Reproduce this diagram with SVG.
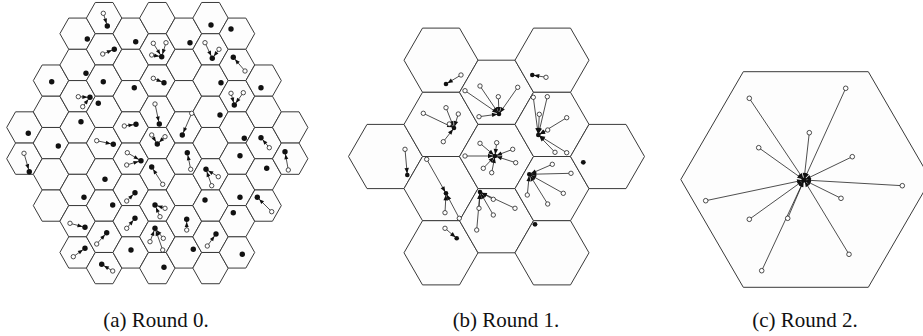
<svg xmlns="http://www.w3.org/2000/svg" width="923" height="336" viewBox="0 0 923 336">
<style>
.cell{fill:#fdfdfd;stroke:#3a3a3a;stroke-width:1}
.e{stroke:#222;stroke-width:0.8;fill:none;marker-end:url(#ah)}
.eb{stroke:#222;stroke-width:0.8;fill:none;marker-end:url(#ahb)}
.o{fill:#fff;stroke:#222;stroke-width:0.8}
.f{fill:#111}
.cap{font-family:"Liberation Serif","Times New Roman",serif;font-size:21px;fill:#111;text-anchor:middle}
</style>
<defs>
<path id="hs" d="M-17.7,0 L-8.85,-15.625 L8.85,-15.625 L17.7,0 L8.85,15.625 L-8.85,15.625 Z"/>
<path id="hm" d="M-37,0 L-18.5,-32.1 L18.5,-32.1 L37,0 L18.5,32.1 L-18.5,32.1 Z"/>
<path id="hl" d="M-125,0 L-62.5,-107.8 L62.5,-107.8 L125,0 L62.5,107.8 L-62.5,107.8 Z"/>
<marker id="ah" viewBox="-6 -3 7 6" refX="2.6" refY="0" markerWidth="7" markerHeight="6" markerUnits="userSpaceOnUse" orient="auto" overflow="visible"><path d="M-5,-2 L0,0 L-5,2 z" fill="#111"/></marker>
<marker id="ahb" viewBox="-6 -3 7 6" refX="1.5" refY="0" markerWidth="7" markerHeight="6" markerUnits="userSpaceOnUse" orient="auto" overflow="visible"><path d="M-5.5,-2.2 L0,0 L-5.5,2.2 z" fill="#111"/></marker>
</defs>
<rect width="923" height="336" fill="#fff"/>

<g id="panel-a">
<g id="a-cells" class="cell">
<use href="#hs" x="24.4" y="127.45"/><use href="#hs" x="24.4" y="158.7"/>
<use href="#hs" x="51" y="80.6"/><use href="#hs" x="51" y="111.85"/><use href="#hs" x="51" y="143.1"/><use href="#hs" x="51" y="174.35"/><use href="#hs" x="51" y="205.6"/>
<use href="#hs" x="77.6" y="33.7"/><use href="#hs" x="77.6" y="64.95"/><use href="#hs" x="77.6" y="96.2"/><use href="#hs" x="77.6" y="127.45"/><use href="#hs" x="77.6" y="158.7"/><use href="#hs" x="77.6" y="189.95"/><use href="#hs" x="77.6" y="221.2"/><use href="#hs" x="77.6" y="252.45"/>
<use href="#hs" x="104.1" y="18.1"/><use href="#hs" x="104.1" y="49.35"/><use href="#hs" x="104.1" y="80.6"/><use href="#hs" x="104.1" y="111.85"/><use href="#hs" x="104.1" y="143.1"/><use href="#hs" x="104.1" y="174.35"/><use href="#hs" x="104.1" y="205.6"/><use href="#hs" x="104.1" y="236.85"/><use href="#hs" x="104.1" y="268.1"/>
<use href="#hs" x="130.7" y="33.7"/><use href="#hs" x="130.7" y="64.95"/><use href="#hs" x="130.7" y="96.2"/><use href="#hs" x="130.7" y="127.45"/><use href="#hs" x="130.7" y="158.7"/><use href="#hs" x="130.7" y="189.95"/><use href="#hs" x="130.7" y="221.2"/><use href="#hs" x="130.7" y="252.45"/>
<use href="#hs" x="157.3" y="18.1"/><use href="#hs" x="157.3" y="49.35"/><use href="#hs" x="157.3" y="80.6"/><use href="#hs" x="157.3" y="111.85"/><use href="#hs" x="157.3" y="143.1"/><use href="#hs" x="157.3" y="174.35"/><use href="#hs" x="157.3" y="205.6"/><use href="#hs" x="157.3" y="236.85"/><use href="#hs" x="157.3" y="268.1"/>
<use href="#hs" x="183.9" y="33.7"/><use href="#hs" x="183.9" y="64.95"/><use href="#hs" x="183.9" y="96.2"/><use href="#hs" x="183.9" y="127.45"/><use href="#hs" x="183.9" y="158.7"/><use href="#hs" x="183.9" y="189.95"/><use href="#hs" x="183.9" y="221.2"/><use href="#hs" x="183.9" y="252.45"/>
<use href="#hs" x="210.5" y="18.1"/><use href="#hs" x="210.5" y="49.35"/><use href="#hs" x="210.5" y="80.6"/><use href="#hs" x="210.5" y="111.85"/><use href="#hs" x="210.5" y="143.1"/><use href="#hs" x="210.5" y="174.35"/><use href="#hs" x="210.5" y="205.6"/><use href="#hs" x="210.5" y="236.85"/><use href="#hs" x="210.5" y="268.1"/>
<use href="#hs" x="237" y="33.7"/><use href="#hs" x="237" y="64.95"/><use href="#hs" x="237" y="96.2"/><use href="#hs" x="237" y="127.45"/><use href="#hs" x="237" y="158.7"/><use href="#hs" x="237" y="189.95"/><use href="#hs" x="237" y="221.2"/><use href="#hs" x="237" y="252.45"/>
<use href="#hs" x="263.6" y="80.6"/><use href="#hs" x="263.6" y="111.85"/><use href="#hs" x="263.6" y="143.1"/><use href="#hs" x="263.6" y="174.35"/><use href="#hs" x="263.6" y="205.6"/>
<use href="#hs" x="290.2" y="127.45"/><use href="#hs" x="290.2" y="158.7"/>
</g>
<g id="a-connectors" class="e">
<line x1="24" y1="153.3" x2="29.3" y2="171.7"/>
<line x1="78.3" y1="96.7" x2="90" y2="97.3"/><line x1="82.7" y1="106.7" x2="90" y2="97.3"/>
<line x1="70" y1="223.3" x2="85" y2="227.3"/>
<line x1="73.3" y1="256.7" x2="85" y2="248.3"/>
<line x1="103.3" y1="13.3" x2="107.3" y2="26"/>
<line x1="102.7" y1="54" x2="114.3" y2="49.3"/>
<line x1="96.7" y1="140.7" x2="113.3" y2="144.3"/>
<line x1="96.7" y1="244" x2="106.7" y2="232.7"/>
<line x1="112.7" y1="271" x2="101.7" y2="264.3"/>
<line x1="124.3" y1="126" x2="136" y2="124.3"/>
<line x1="127.3" y1="152.7" x2="141" y2="160.7"/><line x1="126.7" y1="165" x2="141" y2="160.7"/>
<line x1="126.7" y1="201" x2="135" y2="192.7"/>
<line x1="126.7" y1="228.3" x2="135" y2="218.3"/>
<line x1="153.3" y1="43.3" x2="161.7" y2="56.7"/><line x1="151.7" y1="55" x2="161.7" y2="56.7"/><line x1="166" y1="42.7" x2="161.7" y2="56.7"/>
<line x1="153.3" y1="78.3" x2="164" y2="82.7"/>
<line x1="155" y1="104" x2="159.3" y2="124"/>
<line x1="151.7" y1="135" x2="157.3" y2="144"/><line x1="165" y1="136.7" x2="157.3" y2="144"/>
<line x1="162.7" y1="184.3" x2="151.7" y2="167"/>
<line x1="165" y1="208.3" x2="155" y2="205"/><line x1="160" y1="216.7" x2="155" y2="205"/>
<line x1="150" y1="241.7" x2="155" y2="228.3"/><line x1="163.3" y1="238.3" x2="155" y2="228.3"/><line x1="162.7" y1="250" x2="155" y2="228.3"/>
<line x1="191.7" y1="113.3" x2="182.3" y2="135"/>
<line x1="190.7" y1="169.3" x2="187.3" y2="152.7"/>
<line x1="186.7" y1="230" x2="186.7" y2="219.3"/>
<line x1="205" y1="42.7" x2="212.3" y2="58.3"/><line x1="219" y1="49.3" x2="212.3" y2="58.3"/>
<line x1="211.7" y1="185.7" x2="206" y2="169.3"/><line x1="218.3" y1="176.7" x2="206" y2="169.3"/>
<line x1="207.3" y1="246" x2="216" y2="234"/>
<line x1="245" y1="71" x2="233.3" y2="57.3"/>
<line x1="231" y1="93.3" x2="234.3" y2="105"/><line x1="243.3" y1="92.7" x2="234.3" y2="105"/>
<line x1="269.3" y1="147.7" x2="261" y2="137.7"/>
<line x1="271.7" y1="211.7" x2="257.3" y2="197.3"/>
<line x1="288.3" y1="170" x2="285" y2="151.7"/>
</g>
<g id="a-members" class="o">
<circle cx="24" cy="153.3" r="2.2"/>
<circle cx="78.3" cy="96.7" r="2.2"/><circle cx="82.7" cy="106.7" r="2.2"/>
<circle cx="70" cy="223.3" r="2.2"/><circle cx="73.3" cy="256.7" r="2.2"/>
<circle cx="103.3" cy="13.3" r="2.2"/><circle cx="102.7" cy="54" r="2.2"/>
<circle cx="96.7" cy="140.7" r="2.2"/><circle cx="96.7" cy="244" r="2.2"/><circle cx="112.7" cy="271" r="2.2"/>
<circle cx="124.3" cy="126" r="2.2"/><circle cx="127.3" cy="152.7" r="2.2"/><circle cx="126.7" cy="165" r="2.2"/>
<circle cx="126.7" cy="201" r="2.2"/><circle cx="126.7" cy="228.3" r="2.2"/>
<circle cx="153.3" cy="43.3" r="2.2"/><circle cx="151.7" cy="55" r="2.2"/><circle cx="166" cy="42.7" r="2.2"/>
<circle cx="153.3" cy="78.3" r="2.2"/><circle cx="155" cy="104" r="2.2"/>
<circle cx="151.7" cy="135" r="2.2"/><circle cx="165" cy="136.7" r="2.2"/>
<circle cx="162.7" cy="184.3" r="2.2"/><circle cx="165" cy="208.3" r="2.2"/><circle cx="160" cy="216.7" r="2.2"/>
<circle cx="150" cy="241.7" r="2.2"/><circle cx="163.3" cy="238.3" r="2.2"/><circle cx="162.7" cy="250" r="2.2"/>
<circle cx="191.7" cy="113.3" r="2.2"/><circle cx="190.7" cy="169.3" r="2.2"/><circle cx="186.7" cy="230" r="2.2"/>
<circle cx="205" cy="42.7" r="2.2"/><circle cx="219" cy="49.3" r="2.2"/>
<circle cx="211.7" cy="185.7" r="2.2"/><circle cx="218.3" cy="176.7" r="2.2"/><circle cx="207.3" cy="246" r="2.2"/>
<circle cx="245" cy="71" r="2.2"/><circle cx="231" cy="93.3" r="2.2"/><circle cx="243.3" cy="92.7" r="2.2"/>
<circle cx="269.3" cy="147.7" r="2.2"/><circle cx="271.7" cy="211.7" r="2.2"/><circle cx="288.3" cy="170" r="2.2"/>
</g>
<g id="a-heads" class="f">
<circle cx="28.3" cy="133.3" r="2.7"/><circle cx="29.3" cy="171.7" r="2.7"/>
<circle cx="51.7" cy="81.7" r="2.7"/><circle cx="58.3" cy="146" r="2.7"/>
<circle cx="87.3" cy="39" r="2.7"/><circle cx="86" cy="73.3" r="2.7"/><circle cx="90" cy="97.3" r="2.7"/><circle cx="81" cy="121.7" r="2.7"/><circle cx="84" cy="197.3" r="2.7"/><circle cx="85" cy="227.3" r="2.7"/><circle cx="85" cy="248.3" r="2.7"/>
<circle cx="107.3" cy="26" r="2.7"/><circle cx="114.3" cy="49.3" r="2.7"/><circle cx="103.3" cy="81.7" r="2.7"/><circle cx="98.3" cy="103.3" r="2.7"/><circle cx="113.3" cy="144.3" r="2.7"/><circle cx="105" cy="179.3" r="2.7"/><circle cx="112.7" cy="205" r="2.7"/><circle cx="106.7" cy="232.7" r="2.7"/><circle cx="101.7" cy="264.3" r="2.7"/>
<circle cx="135.7" cy="41.7" r="2.7"/><circle cx="134.3" cy="87.7" r="2.7"/><circle cx="136" cy="124.3" r="2.7"/><circle cx="141" cy="160.7" r="2.7"/><circle cx="135" cy="192.7" r="2.7"/><circle cx="135" cy="218.3" r="2.7"/><circle cx="131" cy="250" r="2.7"/>
<circle cx="161.7" cy="56.7" r="2.7"/><circle cx="164" cy="82.7" r="2.7"/><circle cx="159.3" cy="124" r="2.7"/><circle cx="157.3" cy="144" r="2.7"/><circle cx="151.7" cy="167" r="2.7"/><circle cx="155" cy="205" r="2.7"/><circle cx="155" cy="228.3" r="2.7"/><circle cx="164" cy="267.3" r="2.7"/>
<circle cx="190" cy="42.7" r="2.7"/><circle cx="182.3" cy="135" r="2.7"/><circle cx="187.3" cy="152.7" r="2.7"/><circle cx="186.7" cy="219.3" r="2.7"/><circle cx="193.3" cy="249.3" r="2.7"/>
<circle cx="211" cy="25" r="2.7"/><circle cx="212.3" cy="58.3" r="2.7"/><circle cx="221" cy="82.7" r="2.7"/><circle cx="220" cy="115" r="2.7"/><circle cx="206" cy="169.3" r="2.7"/><circle cx="205" cy="200" r="2.7"/><circle cx="216" cy="234" r="2.7"/>
<circle cx="231" cy="29" r="2.7"/><circle cx="233.3" cy="57.3" r="2.7"/><circle cx="234.3" cy="105" r="2.7"/><circle cx="244.3" cy="138.3" r="2.7"/><circle cx="240" cy="155.7" r="2.7"/><circle cx="240" cy="197.3" r="2.7"/><circle cx="233.3" cy="212.7" r="2.7"/><circle cx="242.3" cy="254.3" r="2.7"/>
<circle cx="261" cy="87.7" r="2.7"/><circle cx="261" cy="137.7" r="2.7"/><circle cx="266.7" cy="168.3" r="2.7"/><circle cx="257.3" cy="197.3" r="2.7"/>
<circle cx="285" cy="151.7" r="2.7"/>
</g>
</g>

<g id="panel-b">
<g id="b-cells" class="cell">
<use href="#hm" x="385.5" y="156.5"/>
<use href="#hm" x="441" y="60.2"/><use href="#hm" x="441" y="124.4"/><use href="#hm" x="441" y="188.6"/><use href="#hm" x="441" y="252.8"/>
<use href="#hm" x="496.5" y="92.3"/><use href="#hm" x="496.5" y="156.5"/><use href="#hm" x="496.5" y="220.7"/>
<use href="#hm" x="552" y="60.2"/><use href="#hm" x="552" y="124.4"/><use href="#hm" x="552" y="188.6"/><use href="#hm" x="552" y="252.8"/>
<use href="#hm" x="607.5" y="156.5"/>
</g>
<g id="b-connectors" class="eb">
<line x1="461" y1="75" x2="446" y2="84"/>
<line x1="465" y1="90.7" x2="499" y2="114"/><line x1="480" y1="86" x2="499" y2="114"/><line x1="498.3" y1="96.7" x2="499" y2="114"/><line x1="517.7" y1="87.3" x2="499" y2="114"/><line x1="479" y1="116.7" x2="499" y2="114"/>
<line x1="423.3" y1="113.3" x2="454" y2="128"/><line x1="446" y1="107.7" x2="454" y2="128"/><line x1="458.3" y1="114" x2="454" y2="128"/><line x1="449.3" y1="124" x2="454" y2="128"/><line x1="443.3" y1="141.7" x2="454" y2="128"/>
<line x1="533.3" y1="97.3" x2="538.3" y2="135"/><line x1="547.3" y1="96.7" x2="538.3" y2="135"/><line x1="539.3" y1="114.3" x2="538.3" y2="135"/><line x1="566.7" y1="117.7" x2="538.3" y2="135"/><line x1="547.7" y1="130" x2="538.3" y2="135"/><line x1="555" y1="152.3" x2="538.3" y2="135"/><line x1="566.7" y1="152.7" x2="538.3" y2="135"/>
<line x1="546" y1="77.3" x2="532.3" y2="75"/>
<line x1="480" y1="143.3" x2="495" y2="156"/><line x1="496.7" y1="142.7" x2="495" y2="156"/><line x1="512.7" y1="149.3" x2="495" y2="156"/><line x1="515.7" y1="162.7" x2="495" y2="156"/><line x1="491.7" y1="172.7" x2="495" y2="156"/><line x1="483.3" y1="168.3" x2="495" y2="156"/><line x1="465" y1="156" x2="495" y2="156"/>
<line x1="493.3" y1="199.3" x2="480" y2="192"/><line x1="515" y1="208.3" x2="480" y2="192"/><line x1="493.3" y1="215" x2="480" y2="192"/><line x1="479" y1="208.3" x2="480" y2="192"/><line x1="476.7" y1="230" x2="480" y2="192"/>
<line x1="426.7" y1="159.3" x2="446" y2="193.3"/><line x1="445" y1="212.7" x2="446" y2="193.3"/><line x1="459.3" y1="218.3" x2="446" y2="193.3"/>
<line x1="405" y1="149.3" x2="407.3" y2="175"/>
<line x1="552.3" y1="164.3" x2="529.3" y2="174.3"/><line x1="571" y1="173.3" x2="529.3" y2="174.3"/><line x1="563.3" y1="193.3" x2="529.3" y2="174.3"/><line x1="547.7" y1="204" x2="529.3" y2="174.3"/><line x1="527.3" y1="195" x2="529.3" y2="174.3"/>
<line x1="445" y1="228.3" x2="456.7" y2="238.3"/>
</g>
<g id="b-members" class="o">
<circle cx="461" cy="75" r="2.2"/>
<circle cx="465" cy="90.7" r="2.2"/><circle cx="480" cy="86" r="2.2"/><circle cx="498.3" cy="96.7" r="2.2"/><circle cx="517.7" cy="87.3" r="2.2"/><circle cx="479" cy="116.7" r="2.2"/>
<circle cx="423.3" cy="113.3" r="2.2"/><circle cx="446" cy="107.7" r="2.2"/><circle cx="458.3" cy="114" r="2.2"/><circle cx="449.3" cy="124" r="2.2"/><circle cx="443.3" cy="141.7" r="2.2"/>
<circle cx="533.3" cy="97.3" r="2.2"/><circle cx="547.3" cy="96.7" r="2.2"/><circle cx="539.3" cy="114.3" r="2.2"/><circle cx="566.7" cy="117.7" r="2.2"/><circle cx="547.7" cy="130" r="2.2"/><circle cx="555" cy="152.3" r="2.2"/><circle cx="566.7" cy="152.7" r="2.2"/>
<circle cx="546" cy="77.3" r="2.2"/>
<circle cx="480" cy="143.3" r="2.2"/><circle cx="496.7" cy="142.7" r="2.2"/><circle cx="512.7" cy="149.3" r="2.2"/><circle cx="515.7" cy="162.7" r="2.2"/><circle cx="491.7" cy="172.7" r="2.2"/><circle cx="483.3" cy="168.3" r="2.2"/><circle cx="465" cy="156" r="2.2"/>
<circle cx="493.3" cy="199.3" r="2.2"/><circle cx="515" cy="208.3" r="2.2"/><circle cx="493.3" cy="215" r="2.2"/><circle cx="479" cy="208.3" r="2.2"/><circle cx="476.7" cy="230" r="2.2"/>
<circle cx="426.7" cy="159.3" r="2.2"/><circle cx="445" cy="212.7" r="2.2"/><circle cx="459.3" cy="218.3" r="2.2"/>
<circle cx="405" cy="149.3" r="2.2"/>
<circle cx="552.3" cy="164.3" r="2.2"/><circle cx="571" cy="173.3" r="2.2"/><circle cx="563.3" cy="193.3" r="2.2"/><circle cx="547.7" cy="204" r="2.2"/><circle cx="527.3" cy="195" r="2.2"/>
<circle cx="445" cy="228.3" r="2.2"/>
</g>
<g id="b-heads" class="f">
<circle cx="446" cy="84" r="2.3"/><circle cx="499" cy="114" r="2.3"/><circle cx="454" cy="128" r="2.3"/><circle cx="538.3" cy="135" r="2.3"/><circle cx="532.3" cy="75" r="2.3"/><circle cx="495" cy="156" r="2.3"/><circle cx="480" cy="192" r="2.3"/><circle cx="446" cy="193.3" r="2.3"/><circle cx="407.3" cy="175" r="2.3"/><circle cx="529.3" cy="174.3" r="2.3"/><circle cx="456.7" cy="238.3" r="2.3"/><circle cx="583.3" cy="162.3" r="2.4"/><circle cx="535" cy="224.3" r="2.4"/>
</g>
</g>

<g id="panel-c">
<g id="c-cells" class="cell"><use href="#hl" x="805.8" y="179.5"/></g>
<g id="c-connectors" class="eb">
<line x1="749.3" y1="98.3" x2="804" y2="180"/><line x1="758.7" y1="147.7" x2="804" y2="180"/><line x1="705.7" y1="200.7" x2="804" y2="180"/><line x1="749.3" y1="219.3" x2="804" y2="180"/><line x1="787.7" y1="218.3" x2="804" y2="180"/><line x1="761.7" y1="270.7" x2="804" y2="180"/>
<line x1="845.7" y1="88.3" x2="804" y2="180"/><line x1="809.3" y1="132.7" x2="804" y2="180"/><line x1="852.3" y1="156.7" x2="804" y2="180"/><line x1="902.3" y1="185.7" x2="804" y2="180"/><line x1="841" y1="198.3" x2="804" y2="180"/><line x1="849" y1="254.3" x2="804" y2="180"/>
</g>
<g id="c-members" class="o">
<circle cx="749.3" cy="98.3" r="2.3"/><circle cx="758.7" cy="147.7" r="2.3"/><circle cx="705.7" cy="200.7" r="2.3"/><circle cx="749.3" cy="219.3" r="2.3"/><circle cx="787.7" cy="218.3" r="2.3"/><circle cx="761.7" cy="270.7" r="2.3"/>
<circle cx="845.7" cy="88.3" r="2.3"/><circle cx="809.3" cy="132.7" r="2.3"/><circle cx="852.3" cy="156.7" r="2.3"/><circle cx="902.3" cy="185.7" r="2.3"/><circle cx="841" cy="198.3" r="2.3"/><circle cx="849" cy="254.3" r="2.3"/>
</g>
<g id="c-sink" class="f"><circle cx="804" cy="180" r="2.6"/></g>
</g>

<g id="captions" class="cap">
<text x="156" y="327">(a) Round 0.</text>
<text x="506" y="327">(b) Round 1.</text>
<text x="805" y="327">(c) Round 2.</text>
</g>
</svg>
